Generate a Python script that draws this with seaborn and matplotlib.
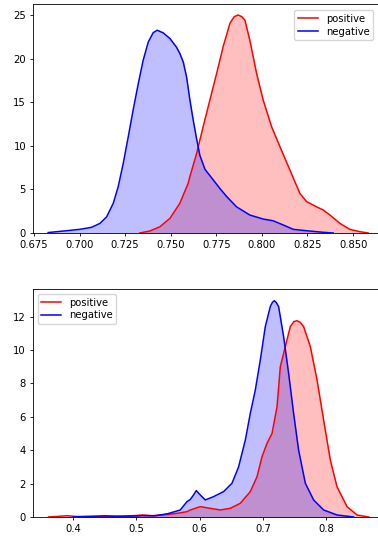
import matplotlib
matplotlib.use("Agg")
import matplotlib.pyplot as plt
import pandas as pd
import seaborn as sns

# top panel: density curves
top_pos_x = [0.7331, 0.7386, 0.7441, 0.7496, 0.7550, 0.7596, 0.7605, 0.7642, 0.7678, 0.7715,
             0.7752, 0.7788, 0.7825, 0.7848, 0.7870, 0.7890, 0.7907, 0.7934, 0.7971, 0.8007,
             0.8053, 0.8099, 0.8154, 0.8208, 0.8245, 0.8300, 0.8336, 0.8373, 0.8428, 0.8482,
             0.8537, 0.8583]
top_pos_y = [0.0, 0.23, 0.72, 1.68, 3.4, 5.7, 6.45, 9.1, 12.2, 15.25,
             18.3, 21.4, 24.05, 24.8, 25.0, 24.8, 24.4, 22.1, 18.3, 15.25,
             12.2, 9.9, 7.2, 4.55, 3.6, 3.0, 2.64, 2.06, 1.1, 0.42,
             0.15, 0.0]
top_neg_x = [0.6828, 0.6929, 0.7002, 0.7066, 0.7112, 0.7149, 0.7185, 0.7212, 0.7240, 0.7267,
             0.7294, 0.7322, 0.7349, 0.7377, 0.7404, 0.7426, 0.7459, 0.7496, 0.7532, 0.7550,
             0.7569, 0.7587, 0.7605, 0.7623, 0.7642, 0.7660, 0.7688, 0.7733, 0.7770, 0.7806,
             0.7861, 0.7934, 0.8007, 0.8062, 0.8117, 0.8172, 0.8245, 0.8336, 0.8391]
top_neg_y = [0.05, 0.26, 0.42, 0.65, 1.1, 1.86, 3.4, 5.3, 8.0, 11.0,
             14.1, 17.1, 19.8, 21.9, 22.97, 23.25, 22.95, 22.3, 21.3, 20.6,
             19.6, 17.9, 15.3, 13.0, 10.8, 8.9, 7.3, 6.1, 5.1, 4.2,
             3.0, 2.06, 1.6, 1.4, 0.92, 0.42, 0.26, 0.08, 0.0]

# bottom panel
bot_pos_x = [0.3615, 0.3750, 0.3905, 0.4050, 0.4300, 0.4500, 0.4800, 0.5000, 0.5100, 0.5250,
             0.5500, 0.5700, 0.5801, 0.5854, 0.6011, 0.6169, 0.6327, 0.6485, 0.6643, 0.6801,
             0.6907, 0.6986, 0.7065, 0.7144, 0.7223, 0.7275, 0.7354, 0.7433, 0.7490, 0.7539,
             0.7590, 0.7643, 0.7749, 0.7855, 0.7959, 0.8065, 0.8171, 0.8329, 0.8486, 0.8670]
bot_pos_y = [0.0, 0.03, 0.08, 0.03, 0.02, 0.03, 0.05, 0.09, 0.12, 0.08,
             0.15, 0.25, 0.32, 0.42, 0.62, 0.52, 0.42, 0.52, 0.82, 1.52,
             2.41, 3.61, 4.41, 5.0, 6.6, 9.0, 10.2, 11.4, 11.7, 11.75,
             11.65, 11.4, 10.2, 8.2, 5.8, 3.4, 1.8, 0.62, 0.12, 0.0]
bot_neg_x = [0.4000, 0.4200, 0.4500, 0.4700, 0.5000, 0.5100, 0.5300, 0.5500, 0.5695, 0.5801,
             0.5854, 0.5905, 0.5948, 0.6011, 0.6090, 0.6222, 0.6379, 0.6512, 0.6616, 0.6722,
             0.6801, 0.6880, 0.6959, 0.7038, 0.7117, 0.7150, 0.7180, 0.7210, 0.7248, 0.7327,
             0.7406, 0.7485, 0.7564, 0.7670, 0.7801, 0.7959, 0.8171, 0.8433]
bot_neg_y = [0.0, 0.03, 0.07, 0.04, 0.06, 0.08, 0.07, 0.2, 0.42, 0.92,
             1.05, 1.32, 1.58, 1.32, 1.02, 1.22, 1.52, 2.02, 3.0, 4.6,
             6.2, 7.6, 9.4, 11.4, 12.6, 12.85, 12.95, 12.85, 12.6, 10.8,
             8.6, 6.2, 4.0, 2.02, 1.02, 0.42, 0.12, 0.0]

plt.rcParams["font.size"] = 7.2
plt.rcParams["axes.linewidth"] = 0.6
plt.rcParams["xtick.major.width"] = 0.6
plt.rcParams["ytick.major.width"] = 0.6
plt.rcParams["xtick.major.size"] = 2.5
plt.rcParams["ytick.major.size"] = 2.5
plt.rcParams["xtick.major.pad"] = 2.5
plt.rcParams["ytick.major.pad"] = 2.5

W, H = 378, 540
fig = plt.figure(figsize=(W / 100, H / 100), dpi=100)


def px_axes(left, top, right, bottom):
    return fig.add_axes([left / W, 1 - bottom / H, (right - left) / W, (bottom - top) / H])


def draw(ax, pos_x, pos_y, neg_x, neg_y):
    pos = pd.DataFrame({"x": pos_x, "y": pos_y})
    neg = pd.DataFrame({"x": neg_x, "y": neg_y})
    ax.fill_between(pos["x"], pos["y"], color="red", alpha=0.25, linewidth=0)
    sns.lineplot(data=pos, x="x", y="y", color="red", lw=1.1, label="positive",
                 ax=ax, sort=False, estimator=None)
    ax.fill_between(neg["x"], neg["y"], color="blue", alpha=0.25, linewidth=0)
    sns.lineplot(data=neg, x="x", y="y", color="blue", lw=1.1, label="negative",
                 ax=ax, sort=False, estimator=None)
    ax.set_xlabel("")
    ax.set_ylabel("")


ax1 = px_axes(33, 4, 385, 233)
draw(ax1, top_pos_x, top_pos_y, top_neg_x, top_neg_y)
ax1.set_xlim(0.6745, 0.8675)
ax1.set_ylim(0, 26.26)
ax1.set_xticks([0.675, 0.700, 0.725, 0.750, 0.775, 0.800, 0.825, 0.850])
ax1.set_xticklabels(["0.675", "0.700", "0.725", "0.750", "0.775", "0.800", "0.825", "0.850"])
ax1.set_yticks([0, 5, 10, 15, 20, 25])
ax1.legend(loc="upper right", bbox_to_anchor=(0.98, 0.995), fontsize=7.2,
           handlelength=2.0, borderpad=0.35, labelspacing=0.3, handletextpad=0.8)

ax2 = px_axes(32.5, 289, 384, 517)
draw(ax2, bot_pos_x, bot_pos_y, bot_neg_x, bot_neg_y)
ax2.set_xlim(0.3362, 0.8912)
ax2.set_ylim(0, 13.65)
ax2.set_xticks([0.4, 0.5, 0.6, 0.7, 0.8])
ax2.set_yticks([0, 2, 4, 6, 8, 10, 12])
ax2.legend(loc="upper left", fontsize=7.2, handlelength=2.0, borderpad=0.35,
           labelspacing=0.3, handletextpad=0.8)

fig.savefig("out.png", dpi=100)
